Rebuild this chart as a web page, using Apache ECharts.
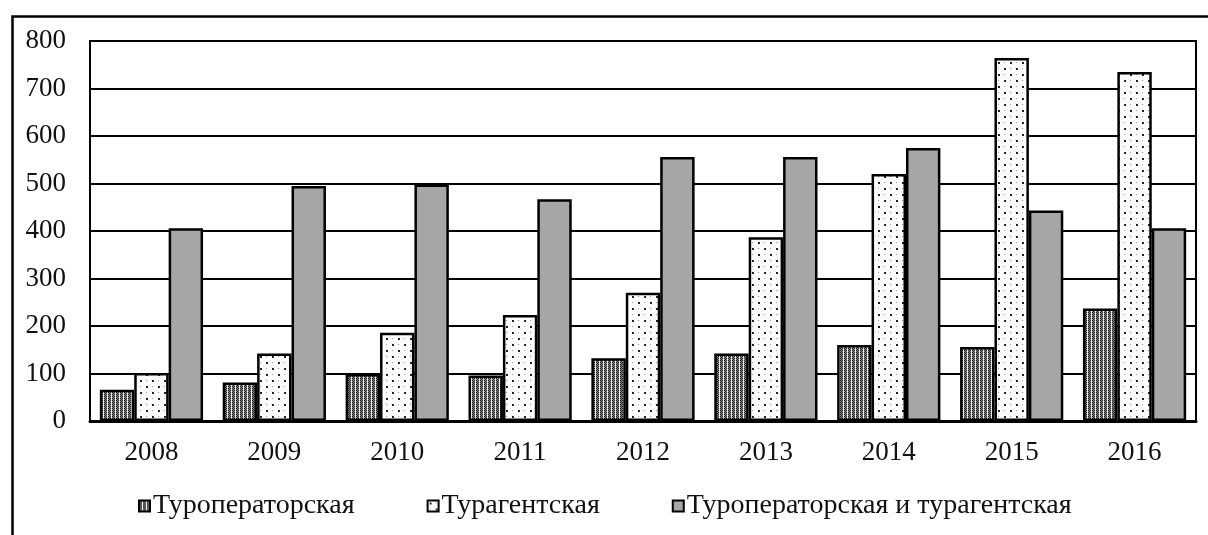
<!DOCTYPE html>
<html>
<head>
<meta charset="utf-8">
<script src="https://cdn.jsdelivr.net/npm/echarts@6/dist/echarts.min.js"></script>
<style>
html,body{margin:0;padding:0;background:#fff;}
#chart{width:1208px;height:535px;}
</style>
</head>
<body>
<div id="chart"></div>
<script>
const categories = ['2008','2009','2010','2011','2012','2013','2014','2015','2016'];
const seriesNames = ['Туроператорская','Турагентская','Туроператорская и турагентская'];
const touroperator = [66, 81, 99, 96, 132, 142, 160, 156, 237];
const travelAgency = [101, 142, 186, 223, 270, 387, 520, 764, 735];
const combined = [406, 495, 498, 467, 556, 556, 575, 443, 406];
const yTicks = [0, 100, 200, 300, 400, 500, 600, 700, 800];

function makePattern(w, h, draw) {
  const c = document.createElement('canvas');
  c.width = w; c.height = h;
  const ctx = c.getContext('2d');
  ctx.fillStyle = '#fff';
  ctx.fillRect(0, 0, w, h);
  draw(ctx);
  return c;
}
const denseTile = makePattern(4, 2, function (ctx) {
  ctx.fillStyle = '#222';
  ctx.fillRect(0, 0, 1, 1); ctx.fillRect(2, 0, 1, 1); ctx.fillRect(1, 1, 1, 1);
  ctx.fillStyle = '#888';
  ctx.fillRect(1, 0, 1, 1); ctx.fillRect(0, 1, 1, 1); ctx.fillRect(2, 1, 1, 1);
  ctx.fillStyle = '#ddd';
  ctx.fillRect(3, 0, 1, 1);
});
const sparseTile = makePattern(12, 12, function (ctx) {
  ctx.fillStyle = '#222';
  ctx.fillRect(2, 2, 2, 2); ctx.fillRect(8, 8, 2, 2);
  ctx.fillStyle = '#999';
  ctx.fillRect(8, 2, 1, 1); ctx.fillRect(2, 8, 1, 1);
});

const font = 'Liberation Serif';
const chart = echarts.init(document.getElementById('chart'), null, {renderer: 'canvas'});
const barBorder = {borderColor: '#000', borderWidth: 2.5};
chart.setOption({
  animation: false,
  backgroundColor: '#fff',
  graphic: [{
    type: 'rect', left: 10, top: 14, z: 100,
    shape: {x: 0, y: 0, width: 1300, height: 700},
    style: {fill: 'none', stroke: '#000', lineWidth: 2.5}
  }],
  grid: {left: 90, right: 12, top: 41, bottom: 114, show: true, borderColor: '#000', borderWidth: 2, backgroundColor: 'transparent'},
  legend: {
    left: 133, top: 487, icon: 'rect', itemWidth: 11, itemHeight: 11, itemGap: 72,
    textStyle: {fontFamily: font, fontSize: 28, color: '#111', padding: [0, 0, 0, -2]},
    data: seriesNames
  },
  xAxis: {
    type: 'category', data: categories,
    axisLine: {show: true, lineStyle: {color: '#000', width: 3}},
    axisTick: {show: false},
    axisLabel: {fontFamily: font, fontSize: 27, color: '#111', margin: 18},
    splitLine: {show: false}
  },
  yAxis: {
    type: 'value', min: yTicks[0], max: yTicks[yTicks.length - 1], interval: 100,
    axisLine: {show: true, lineStyle: {color: '#000', width: 2}},
    axisTick: {show: false},
    axisLabel: {fontFamily: font, fontSize: 27, color: '#111', margin: 24},
    splitLine: {show: true, lineStyle: {color: '#000', width: 2}}
  },
  series: [
    {name: seriesNames[0], type: 'bar', data: touroperator, barGap: '0%', barCategoryGap: '16%',
     itemStyle: Object.assign({color: {image: denseTile, repeat: 'repeat'}}, barBorder)},
    {name: seriesNames[1], type: 'bar', data: travelAgency, barGap: '0%', barCategoryGap: '16%',
     itemStyle: Object.assign({color: {image: sparseTile, repeat: 'repeat'}}, barBorder)},
    {name: seriesNames[2], type: 'bar', data: combined, barGap: '0%', barCategoryGap: '16%',
     itemStyle: Object.assign({color: '#a6a6a6'}, barBorder)}
  ]
});
</script>
</body>
</html>
